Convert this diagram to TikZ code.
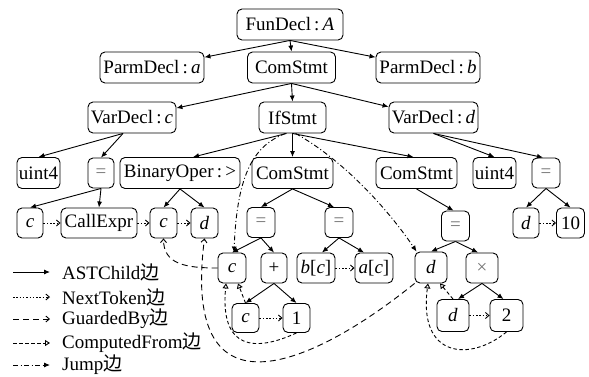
\documentclass[tikz,border=0pt]{standalone}
\usepackage{fontspec}
\setmainfont{Liberation Serif}
\newfontfamily\cjk{Noto Sans CJK SC}
\usetikzlibrary{arrows.meta,calc}
\begin{document}
\begin{tikzpicture}[x=1pt,y=1pt,
  box/.style={draw, line width=0.9pt, rounded corners=5pt, inner xsep=2pt, inner ysep=1pt,
    minimum height=31pt, font=\fontsize{19}{22}\selectfont},
  sm/.style={box, minimum height=30pt, minimum width=27pt},
  op/.style={text=black!55},
  ast/.style={line width=0.9pt, -{Latex[length=6pt,width=5pt]}},
  nt/.style={line width=0.9pt, dash pattern=on 1.5pt off 1.8pt, -{Straight Barb[length=3.5pt,width=6pt]}},
  gb/.style={line width=0.9pt, dash pattern=on 6pt off 4pt, -{Straight Barb[length=3.5pt,width=6pt]}},
  cf/.style={line width=0.9pt, dash pattern=on 3.5pt off 2.5pt, -{Triangle[open,length=5pt,width=6pt]}},
  jp/.style={line width=0.9pt, dash pattern=on 5pt off 2.5pt on 1pt off 2.5pt, -{Latex[length=6pt,width=5pt]}},
  lgt/.style={anchor=west, inner sep=0pt, font=\fontsize{19}{22}\selectfont}
]
\useasboundingbox (0,0) rectangle (589,376);
% row 1-3
\node[box, minimum width=106pt] (fun) at (290,351.5) {FunDecl\,:\,\textit{A}};
\node[box, minimum width=104pt] (pa) at (152,308.5) {ParmDecl\,:\,\textit{a}};
\node[box, minimum width=88pt] (cs) at (291.5,308.5) {ComStmt};
\node[box, minimum width=104pt] (pb) at (428,308.5) {ParmDecl\,:\,\textit{b}};
\node[box, minimum width=88pt] (vc) at (132,258.5) {VarDecl\,:\,\textit{c}};
\node[box, minimum width=67pt] (ifs) at (292.5,258.5) {IfStmt};
\node[box, minimum width=89pt] (vd) at (433.5,258.5) {VarDecl\,:\,\textit{d}};
% row 4
\node[box, minimum width=43pt] (u1) at (38.5,203) {uint4};
\node[sm, op, minimum width=26pt] (e1) at (101,203) {=};
\node[box, minimum width=120pt] (bo) at (180,203) {BinaryOper\,:\,>};
\node[box, minimum width=81pt] (cm) at (292.5,203) {ComStmt};
\node[box, minimum width=81pt] (cr) at (416.5,203) {ComStmt};
\node[box, minimum width=43pt] (u2) at (494.5,203) {uint4};
\node[sm, op, minimum width=28pt] (e2) at (546,203) {=};
% row 5
\node[sm, minimum width=26pt] (c1) at (30,153) {\textit{c}};
\node[box, minimum width=76pt, minimum height=30pt] (call) at (99,153) {CallExpr};
\node[sm] (cb) at (163.5,153) {\textit{c}};
\node[sm] (db) at (204.5,153) {\textit{d}};
\node[sm, op, minimum width=28pt] (e3) at (261,153.5) {=};
\node[sm, op, minimum width=28pt] (e4) at (339,153.5) {=};
\node[sm, op, minimum width=28pt] (e5) at (455.5,150) {=};
\node[sm, minimum width=26pt] (d2) at (526,153) {\textit{d}};
\node[sm, minimum width=28pt] (ten) at (570.5,153) {10};
% row 6
\node[sm, minimum width=28pt] (c6) at (232,108) {\textit{c}};
\node[sm, minimum width=26pt] (plus) at (274,108) {+};
\node[sm, minimum width=38pt] (bc) at (316,108) {\textit{b}[\textit{c}]};
\node[sm, minimum width=38pt] (ac) at (374,108) {\textit{a}[\textit{c}]};
\node[sm, minimum width=32pt, minimum height=31pt] (d6) at (431,108.5) {\textit{d}};
\node[sm, op, minimum width=32pt] (tm) at (482,108) {×};
% row 7
\node[sm, minimum width=27pt, minimum height=29pt] (c7) at (245.5,58) {\textit{c}};
\node[sm, minimum width=27pt, minimum height=29pt] (one) at (296.5,58) {1};
\node[sm, minimum width=32pt, minimum height=32pt] (d7) at (453,60.5) {\textit{d}};
\node[sm, minimum width=33pt, minimum height=32pt] (two) at (506.5,60.5) {2};
% AST edges
\draw[ast] (fun.south) -- (pa);
\draw[ast] (fun.south) -- (cs.north);
\draw[ast] (fun.south) -- (pb);
\draw[ast] (cs.south) -- (vc);
\draw[ast] (cs.south) -- (ifs.north);
\draw[ast] (cs.south) -- (vd);
\draw[ast] ($(vc.south)+(-9,0)$) -- (u1.north);
\draw[ast] ($(vc.south)+(-9,0)$) -- (e1.north);
\draw[ast] (e1.south) -- (c1.north);
\draw[ast] (e1.south) -- (call.north);
\draw[ast] (bo.south) -- (cb.north);
\draw[ast] (bo.south) -- (db.north);
\draw[ast] ($(ifs.south)+(-6,0)$) -- ($(bo.north)+(13,0)$);
\draw[ast] (ifs.south) -- (cm.north);
\draw[ast] (ifs.south) -- ($(cr.north)+(-3,0)$);
\draw[ast] (vd.south) -- (u2.north);
\draw[ast] (vd.south) -- ($(e2.north)+(-3,0)$);
\draw[ast] (cm.south) -- (e3.north);
\draw[ast] (cm.south) -- ($(e4.north)+(-5,0)$);
\draw[ast] (cr.south) -- ($(e5.north)+(-2,0)$);
\draw[ast] (e2.south) -- (d2.north);
\draw[ast] (e2.south) -- (ten.north);
\draw[ast] (e3.south) -- (c6.north);
\draw[ast] (e3.south) -- (plus.north);
\draw[ast] (e4.south) -- ($(bc.north)+(6,0)$);
\draw[ast] (e4.south) -- ($(ac.north)+(-10,0)$);
\draw[ast] (e5.south) -- (d6.north);
\draw[ast] (e5.south) -- ($(tm.north)+(-4,0)$);
\draw[ast] (plus.south) -- (c7.north);
\draw[ast] (plus.south) -- (one.north);
\draw[ast] (tm.south) -- ($(d7.north)+(5,0)$);
\draw[ast] (tm.south) -- ($(two.north)+(-3,0)$);
% NextToken
\draw[nt] (c1) -- (call);
\draw[nt] (call) -- (cb);
\draw[nt] (cb) -- (db);
\draw[nt] (bc) -- (ac);
\draw[nt] (c7) -- (one);
\draw[nt] (d2) -- (ten);
\draw[nt] (d7) -- (two);
% GuardedBy
\draw[gb] (c6.west) .. controls (185,108) and (163.5,112) .. (cb.south);
\draw[gb] (d6.south west) .. controls (320,16) and (180,-54) .. (db.south);
% ComputedFrom
\draw[cf] (one.south) .. controls (255,24) and (220,26) .. ($(c6.south)+(-6,0)$);
\draw[cf] (c7.north) -- ($(c6.south)+(6,0)$);
\draw[cf] (d7.north) -- ($(d6.south)+(9,0)$);
\draw[cf] (two.south) .. controls (470,14) and (418,18) .. ($(d6.south)+(-3,0)$);
% Jump
\draw[jp] ($(ifs.south)+(-7,0)$) .. controls (255,231) and (237,204) .. ($(c6.north)+(2,0)$);
\draw[jp] ($(ifs.south)+(3,0)$) .. controls (340,218) and (385,171) .. ($(d6.north west)+(2,0)$);
% legend
\coordinate (la1) at (13,104); \coordinate (lb1) at (50,104);
\coordinate (la2) at (13,79); \coordinate (lb2) at (50,79);
\coordinate (la3) at (13,57); \coordinate (lb3) at (50,57);
\coordinate (la4) at (13,33); \coordinate (lb4) at (50,33);
\coordinate (la5) at (13,11); \coordinate (lb5) at (50,11);
\draw[ast] (la1) -- (lb1);
\draw[nt] (la2) -- (lb2);
\draw[gb] (la3) -- (lb3);
\draw[cf] (la4) -- (lb4);
\draw[jp] (la5) -- (lb5);
\node[lgt] (t1) at (62,104) {ASTChild{\cjk 边}};
\node[lgt] (t2) at (62,79) {NextToken{\cjk 边}};
\node[lgt] (t3) at (62,57) {GuardedBy{\cjk 边}};
\node[lgt] (t4) at (62,33) {ComputedFrom{\cjk 边}};
\node[lgt] (t5) at (62,11) {Jump{\cjk 边}};
\end{tikzpicture}
\end{document}
